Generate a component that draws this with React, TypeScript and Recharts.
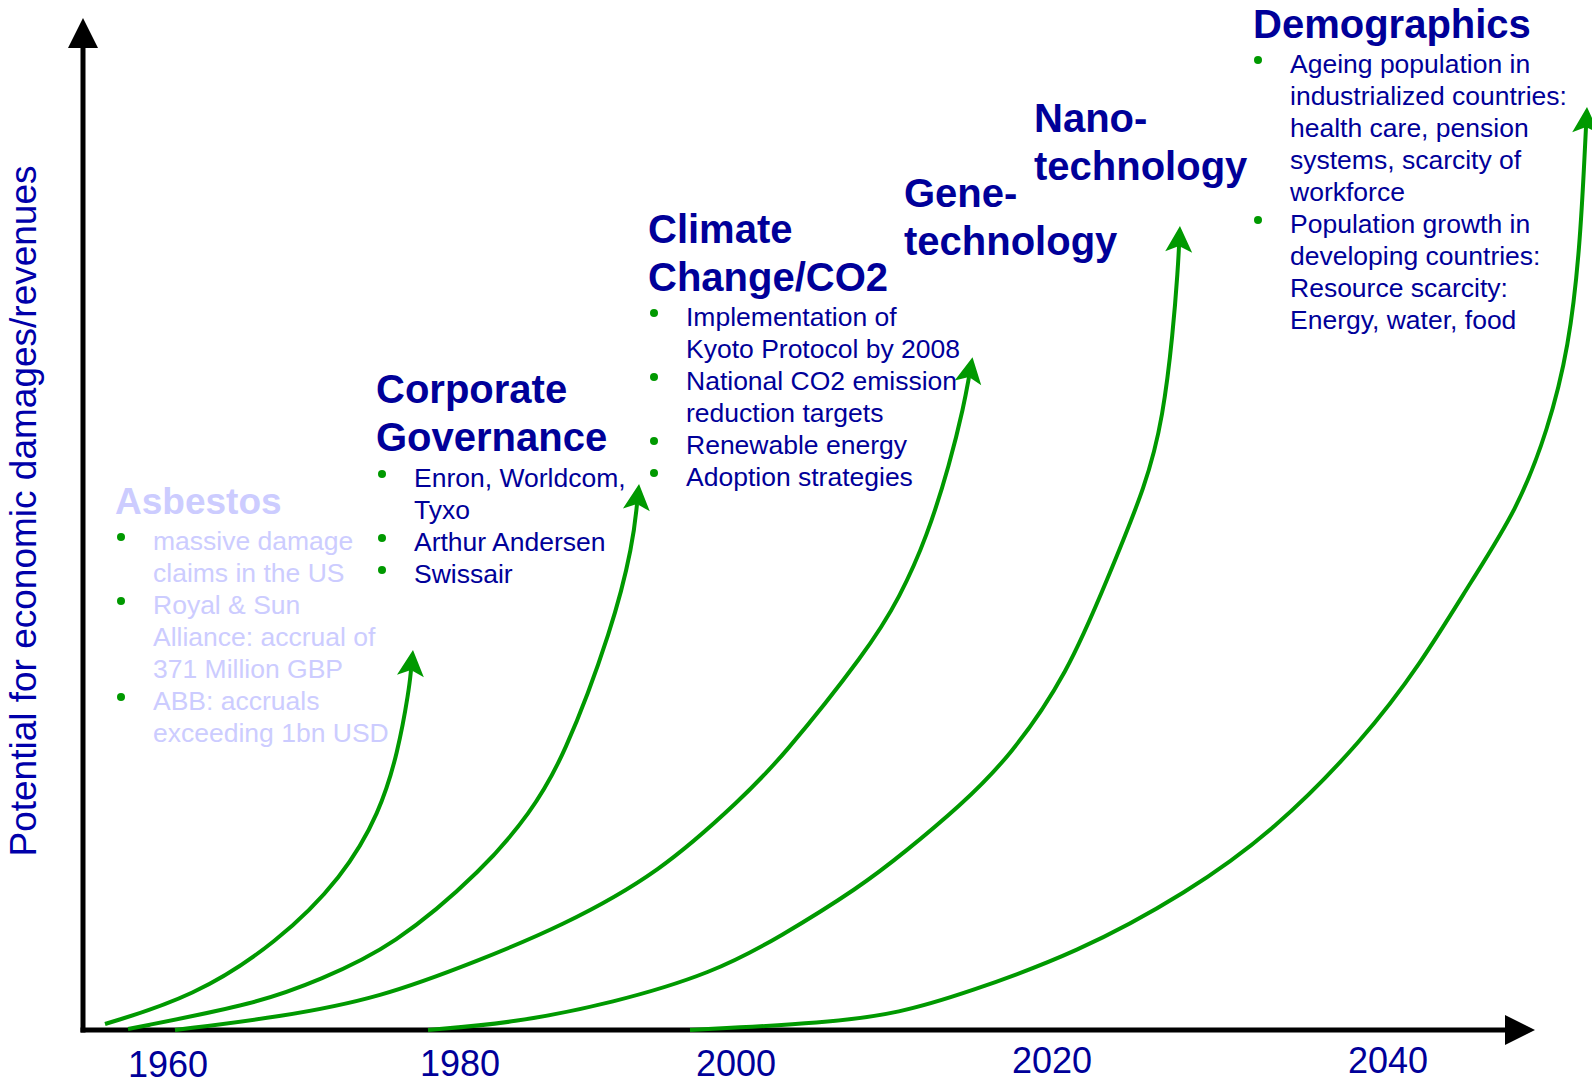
import { LineChart, Line, XAxis, YAxis } from 'recharts';

const NAVY = '#000099';
const GREEN = '#009900';
const FADED = '#ccccff';
const FONT = '"Liberation Sans", Arial, Helvetica, sans-serif';

// x = position along the time axis, y = potential above the time axis
const asbestosCurve = [
  { x: 25, y: 6 }, { x: 113, y: 33 }, { x: 197, y: 87 }, { x: 263, y: 153 },
  { x: 300, y: 218 }, { x: 318, y: 278 }, { x: 329, y: 340 }, { x: 331, y: 360 },
];
const governanceCurve = [
  { x: 48, y: 1 }, { x: 180, y: 27 }, { x: 239, y: 50 }, { x: 313, y: 83 },
  { x: 405, y: 162 }, { x: 450, y: 217 }, { x: 483, y: 270 }, { x: 533, y: 403 },
  { x: 553, y: 487 }, { x: 557, y: 526 },
];
const climateCurve = [
  { x: 95, y: 0 }, { x: 200, y: 13 }, { x: 300, y: 32 }, { x: 400, y: 70 },
  { x: 480, y: 103 }, { x: 580, y: 157 }, { x: 663, y: 233 }, { x: 700, y: 270 },
  { x: 788, y: 380 }, { x: 820, y: 433 }, { x: 847, y: 493 }, { x: 870, y: 567 },
  { x: 884, y: 625 }, { x: 889, y: 653 },
];
const nanoCurve = [
  { x: 348, y: 0 }, { x: 433, y: 7 }, { x: 533, y: 27 }, { x: 633, y: 57 },
  { x: 700, y: 93 }, { x: 780, y: 143 }, { x: 825, y: 178 }, { x: 880, y: 224 },
  { x: 930, y: 273 }, { x: 988, y: 357 }, { x: 1027, y: 450 }, { x: 1067, y: 547 },
  { x: 1083, y: 613 }, { x: 1093, y: 697 }, { x: 1098, y: 763 }, { x: 1099, y: 784 },
];
const demographicsCurve = [
  { x: 610, y: 0 }, { x: 747, y: 7 }, { x: 820, y: 17 }, { x: 886, y: 37 },
  { x: 997, y: 77 }, { x: 1107, y: 137 }, { x: 1195, y: 200 }, { x: 1283, y: 290 },
  { x: 1340, y: 365 }, { x: 1392, y: 450 }, { x: 1437, y: 520 }, { x: 1468, y: 600 },
  { x: 1489, y: 683 }, { x: 1500, y: 783 }, { x: 1505, y: 883 }, { x: 1506, y: 903 },
];
const timeAxis = [{ x: 3, y: 0 }, { x: 1425, y: 0 }];
const potentialAxis = [{ x: 3, y: 0 }, { x: 3, y: 982 }];

const yearLabels = ['1960', '1980', '2000', '2020', '2040'];
const yearPositions = [88, 380, 656, 972, 1308];
const TICK_DY = [47, 46, 46, 43, 43];

const yTitle = 'Potential for economic damages/revenues';

const asbestosTitle = ['Asbestos'];
const asbestosItems = [
  ['massive damage', 'claims in the US'],
  ['Royal & Sun', 'Alliance: accrual of', '371 Million GBP'],
  ['ABB: accruals', 'exceeding 1bn USD'],
];
const governanceTitle = ['Corporate', 'Governance'];
const governanceItems = [['Enron, Worldcom,', 'Tyxo'], ['Arthur Andersen'], ['Swissair']];
const climateTitle = ['Climate', 'Change/CO2'];
const climateItems = [
  ['Implementation of', 'Kyoto Protocol by 2008'],
  ['National CO2 emission', 'reduction targets'],
  ['Renewable energy'],
  ['Adoption strategies'],
];
const geneTitle = ['Gene-', 'technology'];
const nanoTitle = ['Nano-', 'technology'];
const demographicsTitle = ['Demographics'];
const demographicsItems = [
  ['Ageing population in', 'industrialized countries:', 'health care, pension', 'systems, scarcity of', 'workforce'],
  ['Population growth in', 'developing countries:', 'Resource scarcity:', 'Energy, water, food'],
];

type BlockProps = {
  title: string[];
  items?: string[][];
  x: number;
  titleY: number;
  titleSize?: number;
  textX?: number;
  firstY?: number;
  color?: string;
};

function TextBlock({ title, items = [], x, titleY, titleSize = 40, textX = 0, firstY = 0, color = NAVY }: BlockProps) {
  let row = 0;
  return (
    <g fontFamily={FONT}>
      {title.map((t, i) => (
        <text key={'t' + i} x={x} y={titleY + i * 48} fontSize={titleSize} fontWeight="bold" fill={color}>
          {t}
        </text>
      ))}
      {items.map((lines, k) => {
        const start = row;
        row += lines.length;
        return (
          <g key={'i' + k}>
            <circle cx={textX - 32} cy={firstY + start * 32 - 13} r={4} fill={GREEN} />
            {lines.map((l, j) => (
              <text key={j} x={textX} y={firstY + (start + j) * 32} fontSize={26.5} fill={color}>
                {l}
              </text>
            ))}
          </g>
        );
      })}
    </g>
  );
}

const YearTick = (props: any) => {
  const { x, y, index } = props;
  return (
    <text x={x} y={y + TICK_DY[index]} textAnchor="middle" fontSize={36} fontFamily={FONT} fill={NAVY}>
      {yearLabels[index]}
    </text>
  );
};

const renderYTitle = (props: any) => {
  const vb = props.viewBox || { x: 0, y: 0, height: 1030 };
  const cx = vb.x + 36;
  const cy = vb.y + vb.height / 2 - 4;
  return (
    <text x={cx} y={cy} transform={`rotate(-90, ${cx}, ${cy})`} textAnchor="middle" fontSize={37} fontFamily={FONT} fill="#0000aa">
      {yTitle}
    </text>
  );
};

const curves = [asbestosCurve, governanceCurve, climateCurve, nanoCurve, demographicsCurve];

export default function App() {
  return (
    <div style={{ position: 'absolute', left: 0, top: 0, width: 1592, height: 1086, background: '#fff' }}>
      <svg width={0} height={0} style={{ position: 'absolute' }}>
        <defs>
          <marker id="arrow-green" markerUnits="userSpaceOnUse" orient="auto" refX={6} refY={0}
            viewBox="0 -14 27 28" markerWidth={27} markerHeight={28} overflow="visible">
            <path d="M0,-13.5 L26,0 L0,13.5 L6,0 Z" fill={GREEN} />
          </marker>
          <marker id="arrow-black" markerUnits="userSpaceOnUse" orient="auto" refX={0} refY={0}
            viewBox="0 -15 31 30" markerWidth={31} markerHeight={30} overflow="visible">
            <path d="M0,-15 L30,0 L0,15 Z" fill="#000" />
          </marker>
        </defs>
      </svg>
      <LineChart width={1592} height={1086} margin={{ top: 0, right: 0, bottom: 0, left: 0 }}>
        <XAxis type="number" dataKey="x" domain={[0, 1512]} ticks={yearPositions} height={56}
          axisLine={false} tickLine={false} tickSize={0} tickMargin={0} tick={<YearTick />} interval={0} />
        <YAxis type="number" dataKey="y" domain={[0, 1030]} width={80} axisLine={false} tickLine={false}
          tick={false} label={renderYTitle} />
        <Line data={timeAxis} dataKey="y" type="linear" stroke="#000" strokeWidth={5} strokeLinecap="square"
          dot={false} activeDot={false} isAnimationActive={false} markerEnd="url(#arrow-black)" />
        <Line data={potentialAxis} dataKey="y" type="linear" stroke="#000" strokeWidth={5} strokeLinecap="square"
          dot={false} activeDot={false} isAnimationActive={false} markerEnd="url(#arrow-black)" />
        {curves.map((c, i) => (
          <Line key={i} data={c} dataKey="y" type="basis" stroke={GREEN} strokeWidth={4}
            dot={false} activeDot={false} isAnimationActive={false} markerEnd="url(#arrow-green)" />
        ))}
      </LineChart>
      <svg width={1592} height={1086} style={{ position: 'absolute', left: 0, top: 0, pointerEvents: 'none' }}>
        <TextBlock title={asbestosTitle} items={asbestosItems} x={115} titleY={514} titleSize={37}
          textX={153} firstY={550} color={FADED} />
        <TextBlock title={governanceTitle} items={governanceItems} x={376} titleY={403} textX={414} firstY={487} />
        <TextBlock title={climateTitle} items={climateItems} x={648} titleY={243} textX={686} firstY={326} />
        <TextBlock title={geneTitle} x={904} titleY={207} />
        <TextBlock title={nanoTitle} x={1034} titleY={132} />
        <TextBlock title={demographicsTitle} items={demographicsItems} x={1253} titleY={38} textX={1290} firstY={73} />
      </svg>
    </div>
  );
}
